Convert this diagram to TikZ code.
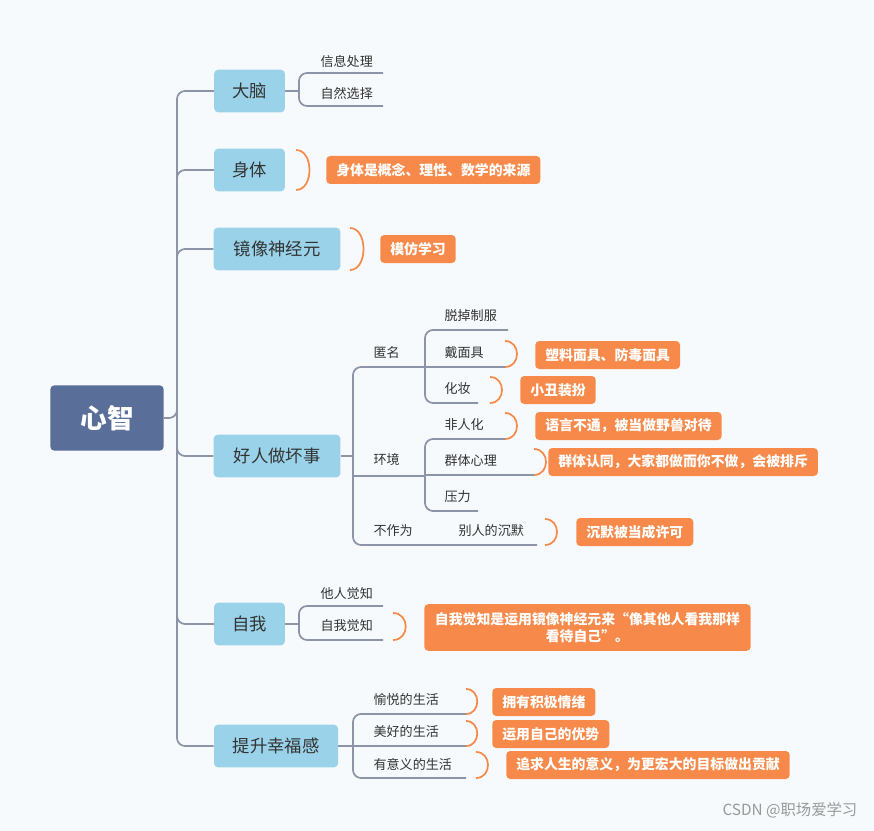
\documentclass[tikz,border=0pt]{standalone}
\usepackage{fontspec}
\setmainfont{Noto Sans CJK SC}
\definecolor{bg}{HTML}{F6FAFD}
\definecolor{rootc}{HTML}{5A6E9A}
\definecolor{l1c}{HTML}{9AD3E9}
\definecolor{linec}{HTML}{8C94A8}
\definecolor{orc}{HTML}{F78A4A}
\definecolor{txt}{HTML}{333333}
\tikzset{
 conn/.style={draw=linec,line width=1.3pt,rounded corners=6pt},
 rootbox/.style={fill=rootc,rounded corners=3pt,text=white,font=\fontsize{20}{24}\selectfont\bfseries,minimum width=85pt,minimum height=49pt},
 l1/.style={fill=l1c,rounded corners=3pt,text=txt,font=\fontsize{13}{16}\selectfont,minimum height=32pt,inner xsep=6pt},
 leaf/.style={anchor=west,text=txt,font=\fontsize{9.8}{11}\selectfont,inner sep=1pt},
 obox/.style={fill=orc,rounded corners=3pt,text=white,font=\fontsize{10.4}{13}\selectfont\bfseries,minimum height=21pt,anchor=west,inner xsep=7.5pt},
 brc/.style={draw=orc,line width=1.3pt},
}
\newcommand\obrace[4]{% x, ytop, ybot, width
 \draw[brc] (#1,#2) .. controls (#1+#4,#2) and (#1+#4,#3) .. (#1,#3);}
\begin{document}
\begin{tikzpicture}[x=0.75pt,y=-0.75pt]
\fill[bg] (0,0) rectangle (874,831);
\useasboundingbox (0,0) rectangle (874,831);
\node[rootbox] (root) at (107,418) {心智};
\node[l1,minimum width=53pt] (dn) at (249.5,91) {大脑};
\node[l1,minimum width=53pt] (st) at (249.5,170) {身体};
\node[l1,minimum width=95pt] (jx) at (277,249) {镜像神经元};
\node[l1,minimum width=95pt] (hr) at (277,456) {好人做坏事};
\node[l1,minimum width=53pt] (zw) at (249.5,624) {自我};
\node[l1,minimum width=93pt] (ts) at (276,746) {提升幸福感};
% trunk
\draw[conn] (root.east) -- (177,418) |- (dn.west);
\draw[conn] (177,418) |- (ts.west);
\foreach \n in {st,jx,hr,zw} \draw[conn] (177,418) |- (\n.west);
% 大脑
\node[leaf] (xx) at (319,61) {信息处理};
\node[leaf] (zr) at (319,93) {自然选择};
\draw[conn] (dn.east) -- (299,91);
\draw[conn] (383,73) -- (299,73) -- (299,106) -- (383,106);
% 身体
\obrace{296}{150}{190}{18}
\node[obox] (st1) at (326,170) {身体是概念、理性、数学的来源};
% 镜像
\obrace{350}{228}{270}{18}
\node[obox] (jx1) at (380,249) {模仿学习};
% 好人做坏事
\draw[conn] (hr.east) -- (353,456);
\draw[conn] (425,367) -- (353,367) -- (353,545) -- (537,545);
\draw[conn] (353,476) -- (425,476);
\node[leaf] (nm) at (372,353) {匿名};
\node[leaf] (hj) at (372,460) {环境};
\node[leaf] (bz) at (372,531) {不作为};
\node[leaf] (cm) at (457,531) {别人的沉默};
\draw[conn] (508,330) -- (425,330) -- (425,403) -- (478,403);
\draw[conn] (425,367) -- (505,367);
\node[leaf] (tz) at (443,316) {脱掉制服};
\node[leaf] (dm) at (443,353) {戴面具};
\node[leaf] (hz) at (443,389) {化妆};
\draw[conn] (534,475) -- (425,475);
\draw[conn] (505,439) -- (425,439) -- (425,511) -- (478,511);
\node[leaf] (fr) at (443,425) {非人化};
\node[leaf] (qt) at (443,461) {群体心理};
\node[leaf] (yl) at (443,497) {压力};
\obrace{505}{341}{367}{16}
\node[obox] (dm1) at (535,355) {塑料面具、防毒面具};
\obrace{490}{377}{403}{16}
\node[obox] (hz1) at (520,390) {小丑装扮};
\obrace{505}{413}{439}{16}
\node[obox] (fr1) at (535,426) {语言不通，被当做野兽对待};
\obrace{534}{449}{475}{16}
\node[obox] (qt1) at (548,462) {群体认同，大家都做而你不做，会被排斥};
\obrace{545}{519}{545}{16}
\node[obox] (cm1) at (576,532) {沉默被当成许可};
% 自我
\draw[conn] (zw.east) -- (299,624);
\draw[conn] (383,606) -- (299,606) -- (299,640) -- (383,640);
\node[leaf] (tr) at (319,594) {他人觉知};
\node[leaf] (zj) at (319,626) {自我觉知};
\obrace{393}{613}{640}{17}
\node[obox,minimum height=35pt,align=center,inner xsep=8pt] (zj1) at (424,627.5) {自我觉知是运用镜像神经元来“像其他人看我那样\\看待自己”。};
% 提升幸福感
\draw[conn] (ts.east) -- (353,746);
\draw[conn] (466,714) -- (353,714) -- (353,778) -- (466,778);
\draw[conn] (353,746) -- (466,746);
\node[leaf] (yy) at (372,700) {愉悦的生活};
\node[leaf] (mh) at (372,732) {美好的生活};
\node[leaf] (yyy) at (372,764) {有意义的生活};
\obrace{466}{689}{714}{15}
\node[obox] (yy1) at (492,702) {拥有积极情绪};
\obrace{466}{721}{746}{15}
\node[obox] (mh1) at (492,734) {运用自己的优势};
\obrace{476}{752}{778}{16}
\node[obox] (yyy1) at (506,765) {追求人生的意义，为更宏大的目标做出贡献};
\node[anchor=east,text=gray!80,font=\fontsize{11.5}{13}\selectfont] (wm) at (862,810) {CSDN @职场爱学习};
\end{tikzpicture}
\end{document}
